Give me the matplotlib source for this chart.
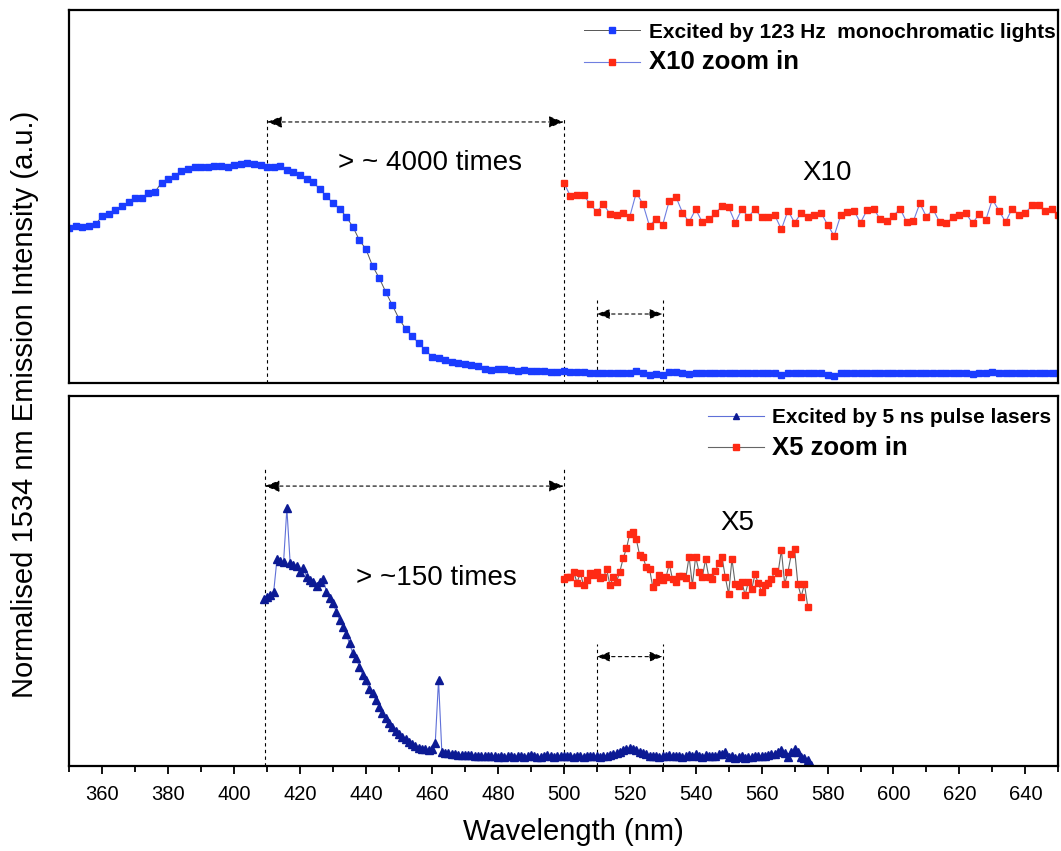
import numpy as np
import matplotlib
matplotlib.use("Agg")
import matplotlib.pyplot as plt
from matplotlib.ticker import MultipleLocator

plt.rcParams['font.family'] = ['Liberation Sans', 'DejaVu Sans']

# ---------------- data ----------------
# top panel: excited by 123 Hz monochromatic light (2 nm steps, 350-650 nm)
top_start, top_step = 350, 2
top_main = [
    0.705, 0.715, 0.709, 0.715, 0.723, 0.761, 0.770, 0.788, 0.806, 0.823,
    0.841, 0.841, 0.864, 0.871, 0.912, 0.927, 0.942, 0.965, 0.973, 0.985,
    0.982, 0.982, 0.988, 0.988, 0.985, 0.991, 0.997, 1.000, 0.997, 0.991,
    0.985, 0.985, 0.988, 0.970, 0.960, 0.948, 0.930, 0.915, 0.882, 0.851,
    0.818, 0.794, 0.757, 0.712, 0.651, 0.609, 0.533, 0.479, 0.415, 0.355,
    0.294, 0.248, 0.215, 0.182, 0.151, 0.121, 0.114, 0.106, 0.098, 0.094,
    0.088, 0.082, 0.079, 0.066, 0.060, 0.064, 0.064, 0.060, 0.057, 0.060,
    0.057, 0.057, 0.055, 0.051, 0.051,
    0.057, 0.051, 0.051, 0.051, 0.048, 0.045, 0.048, 0.045, 0.045, 0.045,
    0.045, 0.054, 0.048, 0.039, 0.042, 0.039, 0.051, 0.051, 0.045, 0.042,
    0.045, 0.045, 0.045, 0.045, 0.048, 0.048, 0.045, 0.045, 0.048, 0.045,
    0.045, 0.045, 0.045, 0.039, 0.045, 0.045, 0.045, 0.045, 0.045, 0.045,
    0.039, 0.033, 0.045, 0.048, 0.048, 0.045, 0.048, 0.048, 0.045, 0.045,
    0.045, 0.048, 0.045, 0.045, 0.048, 0.045, 0.045, 0.045, 0.045, 0.045,
    0.045, 0.045, 0.042, 0.045, 0.045, 0.051, 0.045, 0.045, 0.048, 0.048,
    0.048, 0.048, 0.048, 0.048, 0.048, 0.048,
]
# top panel X10 zoom (500-650 nm, 2 nm steps)
top_zoom_start = 500
top_zoom = [
    0.912, 0.851, 0.855, 0.855, 0.815, 0.779, 0.815, 0.770, 0.764, 0.776,
    0.757, 0.867, 0.815, 0.715, 0.748, 0.721, 0.830, 0.848, 0.776, 0.733,
    0.791, 0.733, 0.745, 0.773, 0.806, 0.800, 0.730, 0.791, 0.757, 0.791,
    0.755, 0.755, 0.764, 0.700, 0.785, 0.730, 0.773, 0.757, 0.767, 0.776,
    0.721, 0.670, 0.764, 0.779, 0.785, 0.730, 0.788, 0.794, 0.745, 0.736,
    0.761, 0.794, 0.733, 0.736, 0.818, 0.757, 0.791, 0.733, 0.727, 0.755,
    0.767, 0.773, 0.727, 0.770, 0.742, 0.836, 0.785, 0.733, 0.794, 0.767,
    0.773, 0.809, 0.809, 0.782, 0.791, 0.767,
]

# bottom panel: excited by 5 ns pulse lasers (1 nm steps from 409 nm)
bot_start, bot_step = 409, 1
bot_main = [
    0.835, 0.847, 0.855, 0.872, 1.035, 1.025, 1.022, 1.288, 1.013, 1.005,
    1.000, 0.972, 0.988, 0.947, 0.930, 0.922, 0.900, 0.922, 0.937, 0.872,
    0.838, 0.813, 0.772, 0.730, 0.697, 0.660, 0.613, 0.563, 0.538, 0.497,
    0.455, 0.430, 0.383, 0.363, 0.330, 0.297, 0.263, 0.238, 0.217, 0.197,
    0.177, 0.160, 0.147, 0.133, 0.122, 0.110, 0.100, 0.092, 0.087, 0.083,
    0.080, 0.083, 0.113, 0.430,
    0.072, 0.067, 0.063, 0.060, 0.058, 0.057, 0.055, 0.055, 0.053, 0.055,
    0.050, 0.052, 0.050, 0.048, 0.052, 0.048, 0.050, 0.047, 0.050, 0.045,
    0.048, 0.050, 0.046, 0.050, 0.052, 0.047, 0.050, 0.055, 0.050, 0.047,
    0.045, 0.050, 0.055, 0.048, 0.045, 0.050, 0.052, 0.048, 0.050, 0.052,
    0.047, 0.050, 0.048, 0.045, 0.050, 0.052, 0.048, 0.050, 0.047, 0.050,
    0.052, 0.055, 0.060, 0.065, 0.072, 0.080, 0.085, 0.088, 0.085, 0.080,
    0.072, 0.065, 0.058, 0.052, 0.048, 0.050, 0.045, 0.048, 0.050, 0.055,
    0.048, 0.050, 0.052, 0.047, 0.050, 0.055, 0.048, 0.060, 0.050, 0.047,
    0.055, 0.050, 0.048, 0.052, 0.058, 0.062, 0.070, 0.045, 0.050, 0.040,
    0.045, 0.048, 0.042, 0.047, 0.045, 0.050, 0.048, 0.052, 0.050, 0.055,
    0.058, 0.062, 0.070, 0.080, 0.065, 0.045, 0.070, 0.085, 0.070, 0.045,
    0.040, 0.030, 0.005,
]
# bottom panel X5 zoom (1 nm steps from 500 nm)
bot_zoom_start = 500
bot_zoom = [
    0.933, 0.943, 0.947, 0.972, 0.917, 0.963, 0.905, 0.930, 0.967, 0.955,
    0.972, 0.938, 0.943, 0.983, 0.905, 0.943, 0.922, 0.972, 1.038, 1.088,
    1.160, 1.172, 1.133, 1.055, 1.047, 0.993, 0.987, 0.893, 0.922, 0.955,
    0.930, 0.943, 1.010, 0.933, 0.922, 0.950, 0.950, 0.938, 1.047, 0.905,
    1.047, 0.972, 0.943, 1.033, 0.943, 0.933, 0.977, 1.013, 1.043, 0.943,
    0.860, 1.035, 0.910, 0.900, 0.922, 0.855, 0.922, 0.883, 0.960, 0.913,
    0.872, 0.905, 0.913, 0.933, 0.977, 0.967, 1.080, 0.910, 0.972, 1.058,
    1.083, 0.910, 0.847, 0.910, 0.797,
]

x_ticks = [360, 380, 400, 420, 440, 460, 480, 500, 520, 540, 560, 580, 600, 620, 640]
labels = {
    "top_main": "Excited by 123 Hz  monochromatic lights",
    "top_zoom": "X10 zoom in",
    "bot_main": "Excited by 5 ns pulse lasers",
    "bot_zoom": "X5 zoom in",
}

wl_top = top_start + top_step * np.arange(len(top_main))
wl_top_zoom = top_zoom_start + top_step * np.arange(len(top_zoom))
wl_bot = bot_start + bot_step * np.arange(len(bot_main))
wl_bot_zoom = bot_zoom_start + bot_step * np.arange(len(bot_zoom))

# ---------------- figure ----------------
W, H = 1061, 851
fig = plt.figure(figsize=(W / 100, H / 100), dpi=100)

def px_axes(x0, y0, x1, y1):
    return fig.add_axes([x0 / W, 1 - y1 / H, (x1 - x0) / W, (y1 - y0) / H])

ax1 = px_axes(69.3, 10, 1058.3, 383.3)
ax2 = px_axes(69.3, 395.7, 1058.3, 766)

for ax in (ax1, ax2):
    ax.set_xlim(350, 650)
    for s in ax.spines.values():
        s.set_linewidth(1.6)
    ax.set_yticks([])

ax1.set_ylim(0, 1.697)
ax2.set_ylim(0, 1.852)

ax1.tick_params(axis='x', which='both', bottom=False, labelbottom=False)
ax2.xaxis.set_major_locator(plt.FixedLocator(x_ticks))
ax2.xaxis.set_minor_locator(MultipleLocator(10))
ax2.tick_params(axis='x', which='major', direction='out', length=6, width=1.3,
                labelsize=14.5, pad=8)
ax2.tick_params(axis='x', which='minor', direction='out', length=4, width=1.3)

blue = '#1a3cff'
red = '#ff2a14'
navy = '#0c1a94'

l1, = ax1.plot(wl_top, top_main, color='#555555', lw=0.7, marker='s', ms=5,
               mfc=blue, mec=blue, label=labels["top_main"])
l2, = ax1.plot(wl_top_zoom, top_zoom, color='#6f7fe0', lw=0.8, marker='s', ms=5,
               mfc=red, mec=red, label=labels["top_zoom"])

l3, = ax2.plot(wl_bot, bot_main, color='#5f70d8', lw=0.8, marker='^', ms=5.5,
               mfc=navy, mec=navy, label=labels["bot_main"])
l4, = ax2.plot(wl_bot_zoom, bot_zoom, color='#666666', lw=0.8, marker='s', ms=5,
               mfc=red, mec=red, label=labels["bot_zoom"])

dash = (0, (3, 3))

def bracket(ax, xa, xb, ytop, yarr, hl=0.9, hw=0.35):
    for xv in (xa, xb):
        ax.plot([xv, xv], [0, ytop], color='black', lw=0.8, ls=dash, zorder=1)
    ax.annotate('', xy=(xb, yarr), xytext=(xa, yarr),
                arrowprops=dict(arrowstyle=f'<|-|>,head_length={hl},head_width={hw}',
                                color='black', lw=0.8, ls=dash,
                                shrinkA=0, shrinkB=0))

bracket(ax1, 410, 500, 1.206, 1.188)
bracket(ax1, 510, 530, 0.379, 0.315, hl=0.8, hw=0.3)
bracket(ax2, 409.3, 500, 1.49, 1.40)
bracket(ax2, 510, 530, 0.61, 0.547, hl=0.8, hw=0.3)

ax1.text(459.3, 1.0, '> ~ 4000 times', fontsize=20, ha='center', va='center')
ax1.text(579.8, 0.956, 'X10', fontsize=20, ha='center', va='center')
ax2.text(461.4, 0.94, '> ~150 times', fontsize=20, ha='center', va='center')
ax2.text(552.6, 1.215, 'X5', fontsize=20, ha='center', va='center')

leg1 = ax1.legend(handles=[l1, l2], loc='upper right', bbox_to_anchor=(0.997, 0.966),
                  frameon=False, borderaxespad=0, borderpad=0, numpoints=1,
                  handlelength=2.7, handletextpad=0.4, labelspacing=0.42,
                  prop={'weight': 'bold', 'size': 15})
leg1.get_texts()[1].set_fontsize(18.5)

leg2 = ax2.legend(handles=[l3, l4], loc='upper right', bbox_to_anchor=(0.993, 0.967),
                  frameon=False, borderaxespad=0, borderpad=0, numpoints=1,
                  handlelength=2.7, handletextpad=0.4, labelspacing=0.42,
                  prop={'weight': 'bold', 'size': 15})
leg2.get_texts()[1].set_fontsize(18.5)
for lh in leg1.legend_handles + leg2.legend_handles:
    lh.set_markersize(4.5)

fig.text(573 / W, 1 - 832 / H, 'Wavelength (nm)', fontsize=21, ha='center', va='center')
fig.text(25 / W, 1 - 404 / H, 'Normalised 1534 nm Emission Intensity (a.u.)',
         fontsize=21, rotation=90, ha='center', va='center')

fig.savefig('out.png', dpi=100)
